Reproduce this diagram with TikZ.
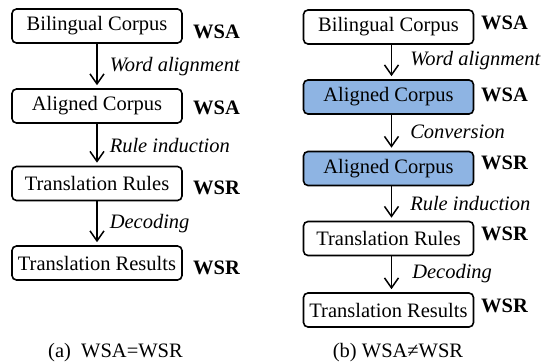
\documentclass[tikz,border=0pt]{standalone}
\usepackage{fontspec}
\setmainfont{Liberation Serif}
\usetikzlibrary{arrows.meta}
\definecolor{boxblue}{RGB}{142,180,227}
\begin{document}
\begin{tikzpicture}[x=1pt,y=-1pt,
  stagebox/.style={draw=black, line width=1.6pt, rounded corners=4.5pt,
    minimum width=170pt, minimum height=34pt, inner sep=0pt,
    font=\fontsize{20.5}{24}\selectfont},
  bluebox/.style={stagebox, fill=boxblue},
  tag/.style={anchor=west, inner sep=0pt, font=\fontsize{20.5}{24}\selectfont\bfseries},
  steplabel/.style={anchor=west, inner sep=0pt, font=\fontsize{20.5}{24}\selectfont\itshape},
  flow/.style={line width=1.5pt, shorten >=3pt, -{Straight Barb[length=10pt,width=14pt,line width=1.5pt]}},
  caption/.style={inner sep=0pt, font=\fontsize{20.5}{24}\selectfont}]
\useasboundingbox (0,0) rectangle (544,362);

% ---- (a) ----
\node[stagebox] (a1) at (97,26) {Bilingual Corpus};
\node[stagebox] (a2) at (97,106) {Aligned Corpus};
\node[stagebox] (a3) at (97,183.5) {Translation Rules};
\node[stagebox] (a4) at (97,263) {Translation Results};
\node[tag] (ta1) at (193,32) {WSA};
\node[tag] (ta2) at (193,108) {WSA};
\node[tag] (ta3) at (193,188) {WSR};
\node[tag] (ta4) at (193,268) {WSR};
\draw[flow] (a1) -- (a2) node[steplabel, midway, xshift=12pt, yshift=-1pt] (la1) {Word alignment};
\draw[flow] (a2) -- (a3) node[steplabel, midway, xshift=12pt, yshift=-1pt] (la2) {Rule induction};
\draw[flow] (a3) -- (a4) node[steplabel, midway, xshift=12pt] (la3) {Decoding};
\node[caption] (capa) at (115.5,353) {(a)~~WSA=WSR};

% ---- (b) ----
\node[stagebox] (b1) at (388.5,27) {Bilingual Corpus};
\node[bluebox] (b2) at (388.5,97) {Aligned Corpus};
\node[bluebox] (b3) at (388.5,168.5) {Aligned Corpus};
\node[stagebox] (b4) at (388.5,238.5) {Translation Rules};
\node[stagebox] (b5) at (388.5,310) {Translation Results};
\node[tag] (tb1) at (481,23) {WSA};
\node[tag] (tb2) at (481,95) {WSA};
\node[tag] (tb3) at (481,163) {WSR};
\node[tag] (tb4) at (481,234) {WSR};
\node[tag] (tb5) at (481,306) {WSR};
\draw[flow] ([xshift=3pt]b1.south) -- ([xshift=3pt]b2.north) node[steplabel, midway, xshift=18pt, yshift=1pt] (lb1) {Word alignment};
\draw[flow] ([xshift=3pt]b2.south) -- ([xshift=3pt]b3.north) node[steplabel, midway, xshift=18pt, yshift=1pt] (lb2) {Conversion};
\draw[flow] ([xshift=3pt]b3.south) -- ([xshift=3pt]b4.north) node[steplabel, midway, xshift=18pt] (lb3) {Rule induction};
\draw[flow] ([xshift=3pt]b4.south) -- ([xshift=3pt]b5.north) node[steplabel, midway, xshift=20pt, yshift=1pt] (lb4) {Decoding};
\node[caption] (capb) at (398,353) {(b) WSA≠WSR};
\end{tikzpicture}
\end{document}
